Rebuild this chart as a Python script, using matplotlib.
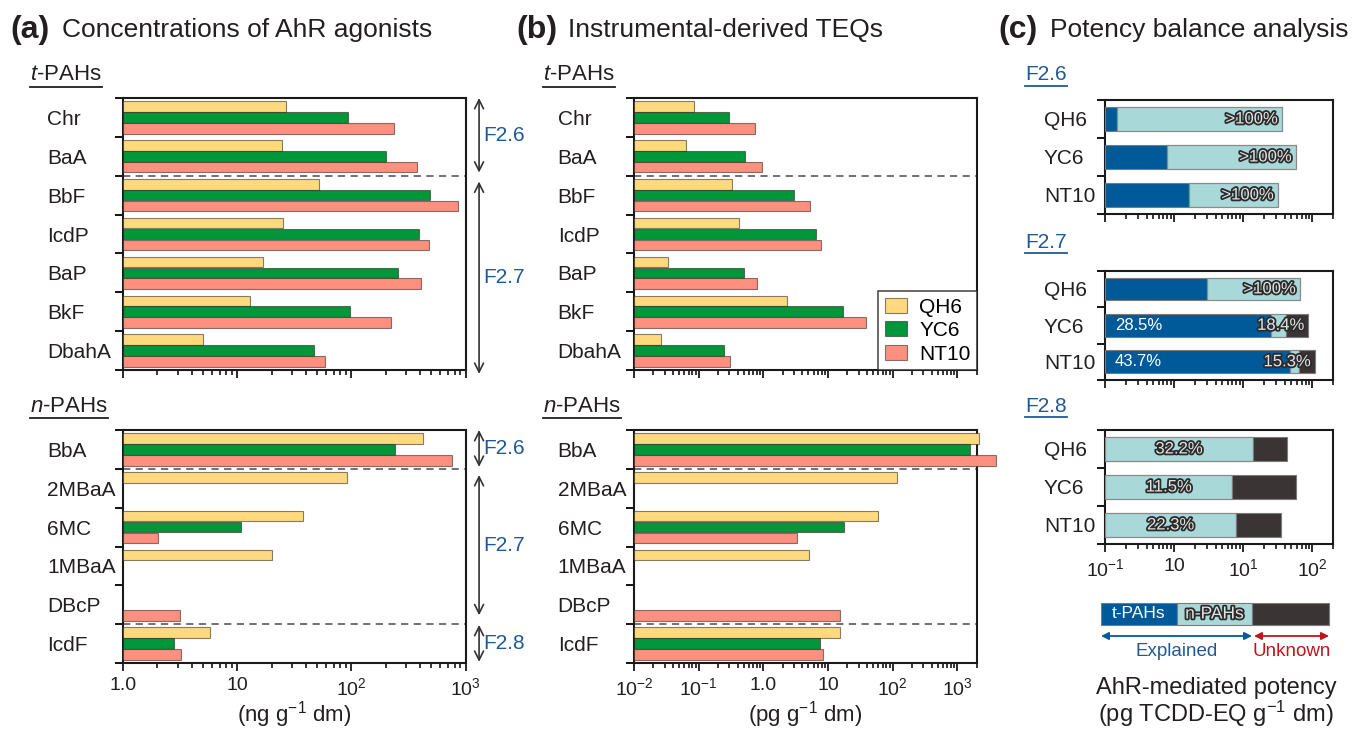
import numpy as np
import matplotlib
matplotlib.use('Agg')
import matplotlib.pyplot as plt
from matplotlib import patheffects as pe
from matplotlib.lines import Line2D
from matplotlib.patches import Rectangle
from matplotlib.ticker import FixedLocator, FixedFormatter, NullFormatter, LogLocator
from matplotlib.transforms import blended_transform_factory

plt.rcParams['font.family'] = ['Liberation Sans', 'DejaVu Sans']
plt.rcParams['mathtext.fontset'] = 'custom'
plt.rcParams['mathtext.rm'] = 'Liberation Sans'
plt.rcParams['mathtext.it'] = 'Liberation Sans:italic'

# ---------------- data ----------------
samples = ['QH6', 'YC6', 'NT10']
t_pahs = ['Chr', 'BaA', 'BbF', 'IcdP', 'BaP', 'BkF', 'DbahA']
n_pahs = ['BbA', '2MBaA', '6MC', '1MBaA', 'DBcP', 'IcdF']
nan = np.nan

# (a) concentrations, ng/g dm
conc_t_QH6 = [26.9, 24.5, 52, 25.1, 16.7, 12.9, 5.06]
conc_t_YC6 = [93, 200, 483, 387, 253, 98, 47.4]
conc_t_NT10 = [235, 372, 851, 473, 405, 221, 58.3]
conc_n_QH6 = [420, 92, 37.4, 20, nan, 5.8]
conc_n_YC6 = [240, nan, 10.8, nan, nan, 2.82]
conc_n_NT10 = [763, nan, 2.01, nan, 3.16, 3.23]

# (b) instrumental TEQs, pg/g dm
teq_t_QH6 = [0.0855, 0.0644, 0.331, 0.424, 0.0335, 2.29, 0.0264]
teq_t_YC6 = [0.29, 0.514, 2.97, 6.43, 0.496, 17.2, 0.243]
teq_t_NT10 = [0.733, 0.96, 5.25, 7.85, 0.787, 38.5, 0.301]
teq_n_QH6 = [2170, 119, 60.5, 5.07, nan, 15.1]
teq_n_YC6 = [1600, nan, 17.6, nan, nan, 7.41]
teq_n_NT10 = [3940, nan, 3.27, nan, 15.1, 8.43]

# (c) potency balance: cumulative ends of t-PAH, n-PAH segments and bioassay total
fractions = ['F2.6', 'F2.7', 'F2.8']
pb_t_end = {'F2.6': [0.15, 0.80, 1.66], 'F2.7': [3.0, 25.0, 47.6], 'F2.8': [nan, nan, nan]}
pb_n_end = {'F2.6': [36.5, 58, 31.9], 'F2.7': [66.5, 41.2, 64.3], 'F2.8': [14.0, 7.0, 8.0]}
pb_total = {'F2.6': [nan, nan, nan], 'F2.7': [nan, 88, 109], 'F2.8': [43.4, 57.7, 35.3]}
pb_label_t = {'F2.7': ['', '28.5%', '43.7%']}
pb_label_n = {'F2.6': ['>100%', '>100%', '>100%'], 'F2.7': ['>100%', '18.4%', '15.3%'],
              'F2.8': ['32.2%', '11.5%', '22.3%']}

# ---------------- style ----------------
W, H = 1354, 731
C_SAMPLE = ['#ffd97d', '#00963a', '#fd907e']
C_TPAH, C_NPAH, C_UNK = '#005a9a', '#a9d8d8', '#3a3434'
C_FBLUE = '#1f5a96'
TXT = '#231f20'

fig = plt.figure(figsize=(W / 100, H / 100), dpi=100)


def px_axes(x0, y0, x1, y1):
    return fig.add_axes([x0 / W, 1 - y1 / H, (x1 - x0) / W, (y1 - y0) / H])


def style_axes(ax, cats, lab_x_px, ax_left_px, ngroups):
    for s in ax.spines.values():
        s.set_linewidth(1.5)
        s.set_color('#1a1a1a')
    ax.set_ylim(ngroups, 0)
    ax.set_yticks(np.arange(ngroups + 1))
    ax.set_yticklabels([])
    ax.set_yticks(np.arange(ngroups) + 0.5, minor=True)
    ax.set_yticklabels(cats, minor=True, ha='left', fontsize=15, color=TXT)
    ax.tick_params(axis='y', which='major', direction='out', length=6, width=1.3, left=True, right=False)
    ax.tick_params(axis='y', which='minor', length=0, pad=(ax_left_px - lab_x_px) * 0.72)
    ax.tick_params(axis='x', which='major', direction='out', length=6, width=1.3, labelsize=14,
                   colors='#1a1a1a', labelcolor=TXT, pad=4)
    ax.tick_params(axis='x', which='minor', direction='out', length=3.5, width=1.1)


def set_log_x(ax, lo, hi, ticks, labels):
    ax.set_xscale('log')
    ax.set_xlim(lo, hi)
    ax.xaxis.set_major_locator(FixedLocator(ticks))
    ax.xaxis.set_minor_locator(LogLocator(base=10, subs=np.arange(2, 10)))
    ax.xaxis.set_minor_formatter(NullFormatter())
    if labels is None:
        ax.xaxis.set_major_formatter(NullFormatter())
    else:
        ax.xaxis.set_major_formatter(FixedFormatter(labels))


def draw_bars(ax, cats, series, xmin):
    for j, (s, vals) in enumerate(zip(samples, series)):
        v = np.asarray(vals, float)
        y = np.arange(len(cats)) + 0.5 + (j - 1) * 0.28
        ok = ~np.isnan(v)
        ax.barh(y[ok], v[ok] - xmin, left=xmin, height=0.27, color=C_SAMPLE[j],
                edgecolor=(0.15, 0.12, 0.1, 0.55), linewidth=0.8, clip_on=False, label=s, zorder=3)


def dashed(ax, ys):
    for yv in ys:
        ax.plot([0, 1], [yv, yv], transform=blended_transform_factory(ax.transAxes, ax.transData),
                ls=(0, (4, 3)), color='#666666', lw=1.3, zorder=2, clip_on=False)


def frac_arrows(ax, spans, x_frac=1.039, tx_frac=1.05):
    tr = blended_transform_factory(ax.transAxes, ax.transData)
    for name, y0, y1 in spans:
        ax.annotate('', xy=(x_frac, y0), xytext=(x_frac, y1), xycoords=tr, textcoords=tr,
                    arrowprops=dict(arrowstyle='<->', lw=1.2, color='#333333',
                                    shrinkA=0, shrinkB=0, mutation_scale=16), annotation_clip=False)
        ax.text(tx_frac, (y0 + y1) / 2, name, transform=tr, ha='left', va='center',
                fontsize=15, color=C_FBLUE, clip_on=False)


# ---------------- panel (a) ----------------
a_ticks = [1, 10, 100, 1000]
a_labels = ['1.0', '10', r'$10^{2}$', r'$10^{3}$']
axa1 = px_axes(123, 98, 465.7, 370)
draw_bars(axa1, t_pahs, [conc_t_QH6, conc_t_YC6, conc_t_NT10], 1)
set_log_x(axa1, 1, 1000, a_ticks, None)
style_axes(axa1, t_pahs, 47, 123, len(t_pahs))
dashed(axa1, [2])
frac_arrows(axa1, [('F2.6', 0.0, 1.92), ('F2.7', 2.15, 7.1)])

axa2 = px_axes(123, 430, 465.7, 663)
draw_bars(axa2, n_pahs, [conc_n_QH6, conc_n_YC6, conc_n_NT10], 1)
set_log_x(axa2, 1, 1000, a_ticks, a_labels)
style_axes(axa2, n_pahs, 47, 123, len(n_pahs))
dashed(axa2, [1, 5])
frac_arrows(axa2, [('F2.6', 0.0, 0.95), ('F2.7', 1.16, 4.77), ('F2.8', 5.02, 5.97)])

# ---------------- panel (b) ----------------
b_ticks = [0.01, 0.1, 1, 10, 100, 1000]
b_labels = [r'$10^{-2}$', r'$10^{-1}$', '1.0', '10', r'$10^{2}$', r'$10^{3}$']
axb1 = px_axes(634, 98, 976.7, 370)
draw_bars(axb1, t_pahs, [teq_t_QH6, teq_t_YC6, teq_t_NT10], 0.01)
set_log_x(axb1, 0.01, 2000, b_ticks, None)
style_axes(axb1, t_pahs, 557.7, 634, len(t_pahs))
dashed(axb1, [2])
leg = axb1.legend(loc='lower right', bbox_to_anchor=(1.0, 0.0), borderaxespad=0, fontsize=15,
                  frameon=True, fancybox=False, edgecolor='#222222', handlelength=1.05,
                  handleheight=0.72, handletextpad=0.6, labelspacing=0.22, borderpad=0.3)
leg.get_frame().set_linewidth(1.2)
leg.set_zorder(5)

axb2 = px_axes(634, 430, 976.7, 663)
draw_bars(axb2, n_pahs, [teq_n_QH6, teq_n_YC6, teq_n_NT10], 0.01)
set_log_x(axb2, 0.01, 2000, b_ticks, b_labels)
style_axes(axb2, n_pahs, 557.7, 634, len(n_pahs))
dashed(axb2, [1, 5])

# ---------------- panel (c) ----------------
c_ticks = [0.1, 1, 10, 100]
c_labels = [r'$10^{-1}$', '10', r'$10^{1}$', r'$10^{2}$']
c_rows = [(100, 214), (270.7, 380), (430, 544)]
outline = [pe.withStroke(linewidth=2.6, foreground='#2b2b2b')]
for k, fr in enumerate(fractions):
    y0, y1 = c_rows[k]
    ax = px_axes(1105, y0, 1333, y1)
    lo = 0.1
    yy = np.arange(3) + 0.5
    te = np.asarray(pb_t_end[fr], float)
    ne = np.asarray(pb_n_end[fr], float)
    tot = np.asarray(pb_total[fr], float)
    for i in range(3):
        start_n = lo
        if not np.isnan(te[i]):
            ax.barh(yy[i], te[i] - lo, left=lo, height=0.62, color=C_TPAH,
                    edgecolor='#7a7a7a', lw=0.8, zorder=3)
            start_n = te[i]
        ax.barh(yy[i], ne[i] - start_n, left=start_n, height=0.62, color=C_NPAH,
                edgecolor='#8a8a8a', lw=0.9, zorder=3)
        if not np.isnan(tot[i]):
            ax.barh(yy[i], tot[i] - ne[i], left=ne[i], height=0.62, color=C_UNK,
                    edgecolor='#7a7a7a', lw=0.8, zorder=3)
        if fr in pb_label_t and pb_label_t[fr][i]:
            ax.annotate(pb_label_t[fr][i], xy=(lo, yy[i]), xytext=(7, 0), textcoords='offset points',
                        ha='left', va='center', color='white', fontsize=12, zorder=4)
        lab = pb_label_n[fr][i]
        if fr == 'F2.8':
            ax.text(np.sqrt(lo * ne[i]), yy[i], lab, ha='center', va='center', fontsize=12,
                    color='#e4e4e4', path_effects=outline, zorder=4)
        else:
            xend = tot[i] if not np.isnan(tot[i]) else ne[i]
            ax.annotate(lab, xy=(xend, yy[i]), xytext=(-3, 0), textcoords='offset points',
                        ha='right', va='center', fontsize=12, color='#e4e4e4',
                        path_effects=outline, zorder=4)
    set_log_x(ax, 0.1, 200, c_ticks, c_labels if k == 2 else None)
    style_axes(ax, samples, 1044, 1105, 3)
    fig.text(1025 / W, 1 - [75, 242.7, 406.7][k] / H, fr, ha='left', va='center',
             fontsize=15, color=C_FBLUE)

# legend key for (c)
axk = px_axes(1101, 598, 1331, 665)
axk.set_xlim(1101, 1331)
axk.set_ylim(665, 598)
axk.axis('off')
key_segments = [(1101, 1177, C_TPAH), (1177, 1252, C_NPAH), (1252, 1329, C_UNK)]
for xa, xb, col in key_segments:
    axk.add_patch(Rectangle((xa, 603), xb - xa, 22, facecolor=col, edgecolor='#7a7a7a', lw=0.8))
axk.text(1139, 614, 't-PAHs', ha='center', va='center', color='white', fontsize=12.5)
axk.text(1214.5, 614, 'n-PAHs', ha='center', va='center', color='#e4e4e4', fontsize=12.5,
         path_effects=outline)
axk.annotate('', xy=(1101, 636), xytext=(1252, 636),
             arrowprops=dict(arrowstyle='<|-|>', color=C_TPAH, lw=1.3, shrinkA=0, shrinkB=0,
                             mutation_scale=11))
axk.annotate('', xy=(1254, 636), xytext=(1329, 636),
             arrowprops=dict(arrowstyle='<|-|>', color='#c0141e', lw=1.3, shrinkA=0, shrinkB=0,
                             mutation_scale=11))
axk.text(1177, 652, 'Explained', ha='center', va='center', color=C_FBLUE, fontsize=13.5)
axk.text(1292, 652, 'Unknown', ha='center', va='center', color='#c0141e', fontsize=13.5)

# ---------------- titles & labels ----------------
for xp, tag, title in [(10, '(a)', 'Concentrations of AhR agonists'),
                       (516, '(b)', 'Instrumental-derived TEQs'),
                       (998, '(c)', 'Potency balance analysis')]:
    fig.text(xp / W, 1 - 30 / H, tag, ha='left', va='center', fontsize=23,
             fontweight='bold', color=TXT)
    fig.text((xp + 52) / W, 1 - 30 / H, title, ha='left', va='center', fontsize=19, color=TXT)

sub_texts = []
for xp, yp, s in [(30, 75, r'$\mathit{t}$-PAHs'), (30, 407, r'$\mathit{n}$-PAHs'),
                  (543, 75, r'$\mathit{t}$-PAHs'), (543, 407, r'$\mathit{n}$-PAHs')]:
    sub_texts.append(fig.text(xp / W, 1 - yp / H, s, ha='left', va='center', fontsize=16, color=TXT))

fig.text(294 / W, 1 - 715 / H, r'(ng g$^{-1}$ dm)', ha='center', va='center', fontsize=16, color=TXT)
fig.text(805 / W, 1 - 715 / H, r'(pg g$^{-1}$ dm)', ha='center', va='center', fontsize=16, color=TXT)
fig.text(1216 / W, 1 - 703 / H, 'AhR-mediated potency\n' + r'(pg TCDD-EQ g$^{-1}$ dm)',
         ha='center', va='center', fontsize=17, color=TXT, linespacing=1.0, multialignment='center')

# underlines
fig.canvas.draw()
rend = fig.canvas.get_renderer()
ul_targets = [(t, TXT) for t in sub_texts]
for t in fig.texts:
    if t.get_text() in fractions:
        ul_targets.append((t, C_FBLUE))
for t, col in ul_targets:
    bb = t.get_window_extent(rend)
    yl = bb.y0 - 1
    fig.add_artist(Line2D([bb.x0 / W, bb.x1 / W], [yl / H, yl / H], color=col, lw=1.3,
                          transform=fig.transFigure))

fig.savefig('out.png', dpi=100)
